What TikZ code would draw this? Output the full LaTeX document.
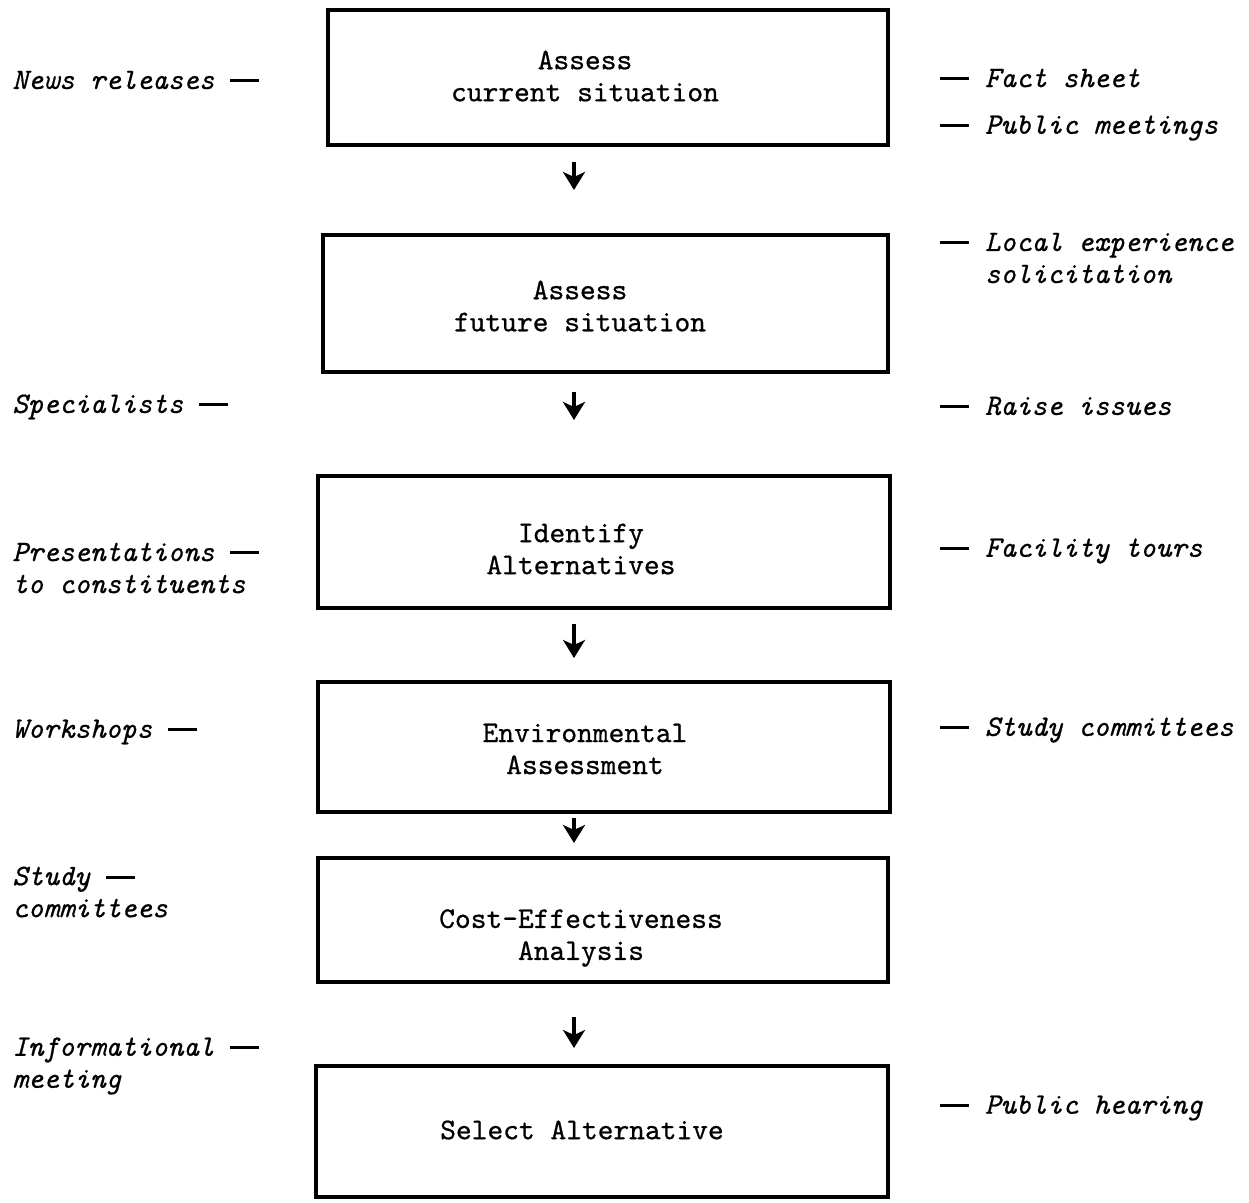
\documentclass[tikz,border=0pt]{standalone}
\usepackage{fontspec}
\newfontfamily\tw{lmmono10-regular.otf}[ItalicFont=lmmono10-italic.otf,FakeBold=0.7]
\newcommand\mydash{\rule[3.3pt]{14.5pt}{1.5pt}}
\usetikzlibrary{arrows.meta}
\begin{document}
\begin{tikzpicture}[x=0.5pt,y=-0.5pt,
  box/.style={draw,line width=2pt,rectangle,inner sep=0pt},
  btext/.style={font=\tw\fontsize{15}{16}\selectfont,align=center,inner sep=0pt},
  side/.style={font=\tw\itshape\fontsize{14.8}{16}\selectfont,align=left,inner sep=0pt},
  flow/.style={line width=2pt,-{Stealth[length=9pt,width=11pt,inset=2.5pt]}}]
\useasboundingbox (0,0) rectangle (1249,1203);
% boxes
\node[box,minimum width=280pt,minimum height=67.5pt] (b1) at (608,77.5) {};
\node[box,minimum width=282.5pt,minimum height=68.5pt] (b2) at (605.5,303.5) {};
\node[box,minimum width=286pt,minimum height=66pt] (b3) at (604,542) {};
\node[box,minimum width=286pt,minimum height=65pt] (b4) at (604,747) {};
\node[box,minimum width=285pt,minimum height=62pt] (b5) at (603,920) {};
\node[box,minimum width=286pt,minimum height=65.5pt] (b6) at (602,1131.5) {};
% box texts
\node[btext] (t1) at (585,76) {Assess\\current situation};
\node[btext] (t2) at (580,306) {Assess\\future situation};
\node[btext] (t3) at (581,549) {Identify\\Alternatives};
\node[btext] (t4) at (585,749) {Environmental\\Assessment};
\node[btext] (t5) at (581,938) {Cost-Effectiveness\\Analysis};
\node[btext] (t6) at (582,1130) {Select Alternative};
% arrows
\coordinate (ax) at (574,0);
\draw[flow,shorten <=7.5pt,shorten >=21.5pt] (b1.south -| ax) -- (b2.north -| ax);
\draw[flow,shorten <=9pt,shorten >=27pt] (b2.south -| ax) -- (b3.north -| ax);
\draw[flow,shorten <=7pt,shorten >=11pt] (b3.south -| ax) -- (b4.north -| ax);
\draw[flow,shorten <=2pt,shorten >=6.5pt] (b4.south -| ax) -- (b5.north -| ax);
\draw[flow,shorten <=16.5pt,shorten >=8pt] (b5.south -| ax) -- (b6.north -| ax);
% left labels
\node[side,anchor=west] (l1) at (12,80) {News releases \mydash};
\node[side,anchor=west] (l2) at (12,407) {Specialists \mydash};
\node[side,anchor=west] (l3) at (12,568) {Presentations \mydash\\to constituents};
\node[side,anchor=west] (l4) at (12,732) {Workshops \mydash};
\node[side,anchor=west] (l5) at (12,892) {Study \mydash\\committees};
\node[side,anchor=west] (l6) at (12,1066) {Informational \mydash\\meeting};
% right labels
\node[side,anchor=west] (r1) at (940,78) {\mydash{} Fact sheet};
\node[side,anchor=west] (r2) at (940,128) {\mydash{} Public meetings};
\node[side,anchor=west] (r3) at (940,258) {\mydash{} Local experience\\\phantom{\mydash{} }solicitation};
\node[side,anchor=west] (r4) at (940,406) {\mydash{} Raise issues};
\node[side,anchor=west] (r5) at (940,551) {\mydash{} Facility tours};
\node[side,anchor=west] (r6) at (940,730) {\mydash{} Study committees};
\node[side,anchor=west] (r7) at (940,1108) {\mydash{} Public hearing};
\end{tikzpicture}
\end{document}
